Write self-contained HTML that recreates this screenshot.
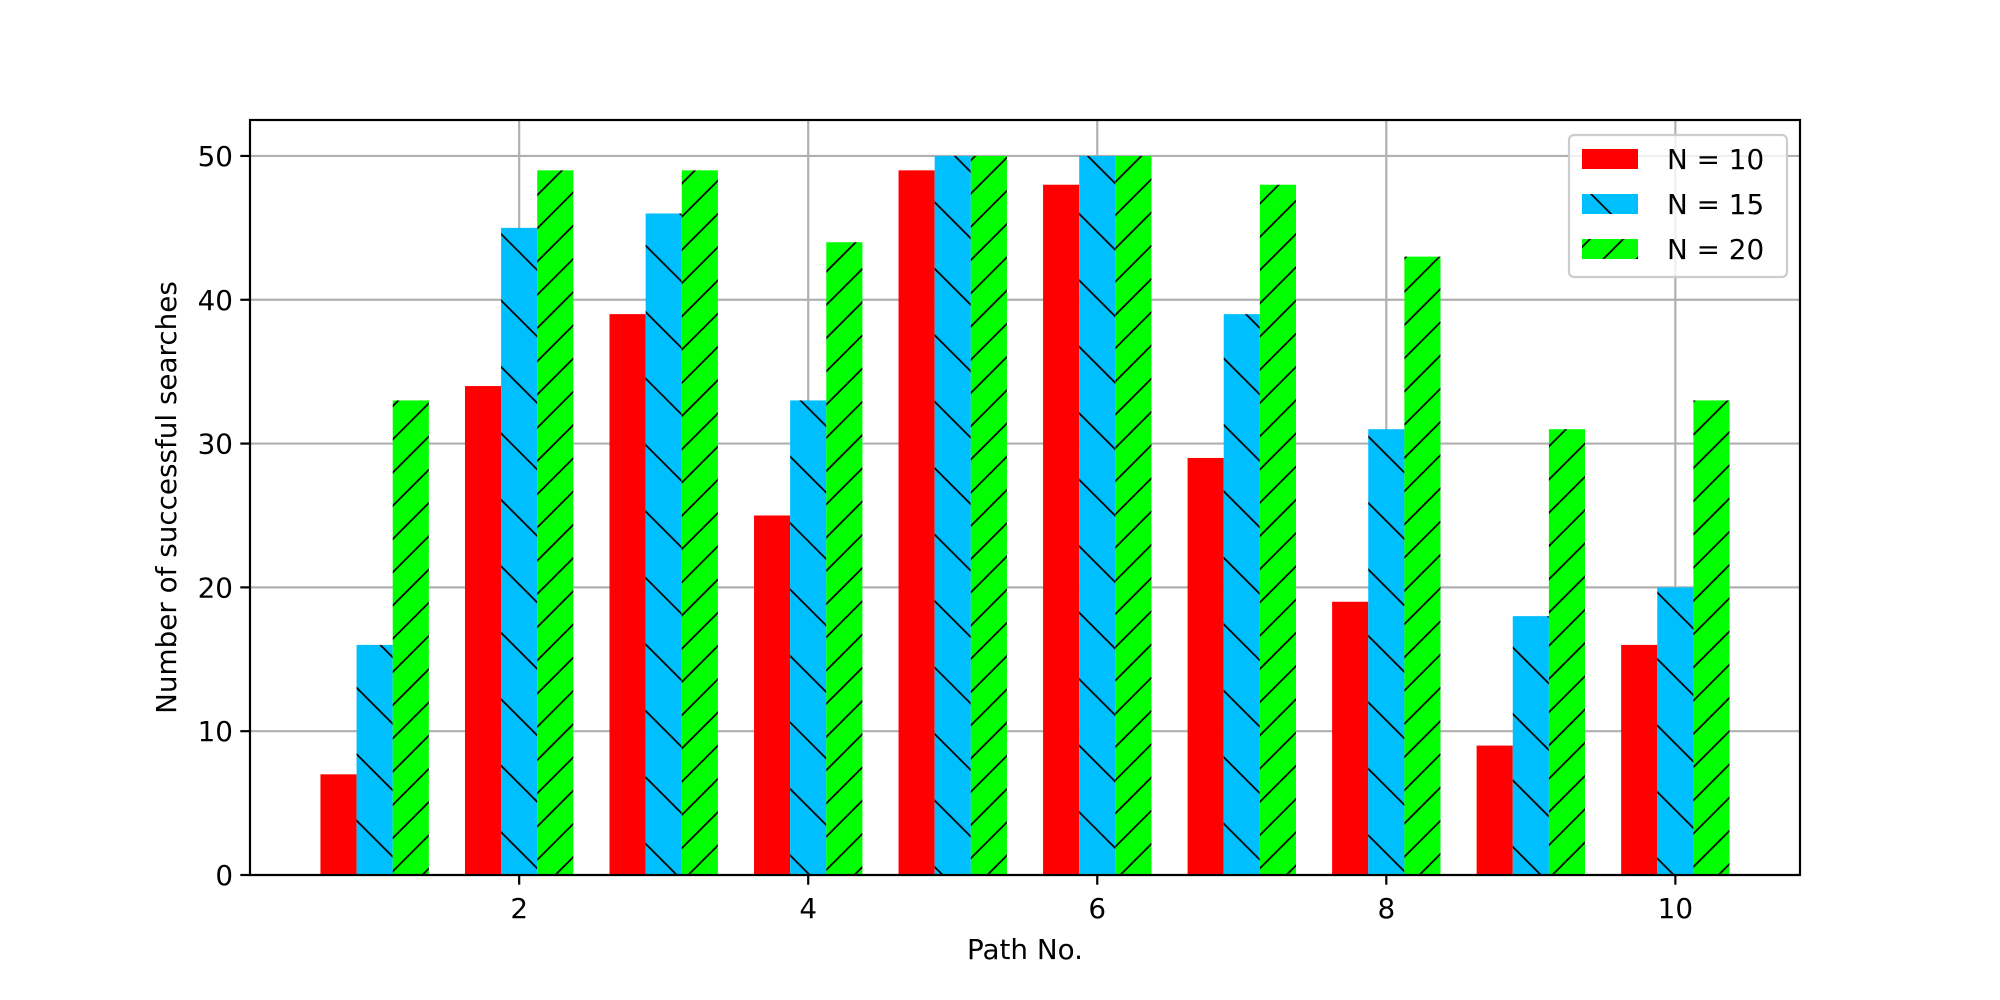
<!DOCTYPE html>
<html><head><meta charset="utf-8"><style>
html,body{margin:0;padding:0;background:#fff;}
svg{display:block;font-family:"DejaVu Sans","Liberation Sans",sans-serif;}
</style></head><body>
<svg id="chart" width="2000" height="1000" viewBox="0 0 2000 1000" xmlns="http://www.w3.org/2000/svg">
<defs>
<pattern id="hatchB" patternUnits="userSpaceOnUse" width="47" height="20" patternTransform="rotate(-45)">
<rect width="47" height="20" fill="#00bfff"/><line x1="0" y1="0" x2="0" y2="20" stroke="#000" stroke-width="3.5"/></pattern>
<pattern id="hatchF" patternUnits="userSpaceOnUse" width="23.5" height="20" patternTransform="rotate(45)">
<rect width="23.5" height="20" fill="#00ff00"/><line x1="0" y1="0" x2="0" y2="20" stroke="#000" stroke-width="3.5"/></pattern>
</defs>
<g id="grid"></g><g id="bars"></g><g id="axes"></g><g id="legend"></g>
</svg>
<script>
const categories=[1,2,3,4,5,6,7,8,9,10];
const n10=[7,34,39,25,49,48,29,19,9,16];
const n15=[16,45,46,33,50,50,39,31,18,20];
const n20=[33,49,49,44,50,50,48,43,31,33];
const xTicks=[2,4,6,8,10];
const yTicks=[0,10,20,30,40,50];
const seriesNames=["N = 10","N = 15","N = 20"];

const NS="http://www.w3.org/2000/svg";
const L=250,R=1800,T=120,B=875,xmin=0.1375,xmax=10.8625,ymax=52.5,bw=0.25;
const X=v=>L+(v-xmin)/(xmax-xmin)*(R-L);
const Y=v=>B-v/ymax*(B-T);
function mk(tag,attrs,parent){const e=document.createElementNS(NS,tag);for(const k in attrs)e.setAttribute(k,attrs[k]);parent.appendChild(e);return e;}
const grid=document.getElementById('grid'),bars=document.getElementById('bars'),axes=document.getElementById('axes'),leg=document.getElementById('legend');
xTicks.forEach(t=>{const l=mk('line',{x1:X(t),x2:X(t),y1:T,y2:B,stroke:'#b0b0b0','stroke-width':2.2},grid);
});
yTicks.forEach(t=>{const l=mk('line',{x1:L,x2:R,y1:Y(t),y2:Y(t),stroke:'#b0b0b0','stroke-width':2.2},grid);
});
const series=[[n10,-bw,'#ff0000','n10'],[n15,0,'url(#hatchB)','n15'],[n20,bw,'url(#hatchF)','n20']];
series.forEach(([vals,off,fill,nm])=>{vals.forEach((v,i)=>{const c=categories[i]+off;
const r=mk('rect',{x:X(c-bw/2),y:Y(v),width:X(c+bw/2)-X(c-bw/2),height:Y(0)-Y(v),fill:fill},bars);
});});
const fr=mk('rect',{x:L,y:T,width:R-L,height:B-T,fill:'none',stroke:'#000','stroke-width':2.2},axes);

xTicks.forEach(t=>{mk('line',{x1:X(t),x2:X(t),y1:B,y2:B+9.7,stroke:'#000','stroke-width':2.2},axes);
const tx=mk('text',{x:X(t),y:B+43,'font-size':27.8,'text-anchor':'middle'},axes);tx.textContent=t;
});
yTicks.forEach(t=>{mk('line',{x1:L,x2:L-9.7,y1:Y(t),y2:Y(t),stroke:'#000','stroke-width':2.2},axes);
const tx=mk('text',{x:L-17,y:Y(t)+10,'font-size':27.8,'text-anchor':'end'},axes);tx.textContent=t;
});
const xl=mk('text',{x:(L+R)/2,y:959,'font-size':27.8,'text-anchor':'middle'},axes);xl.textContent='Path No.';

const yl=mk('text',{x:0,y:0,'font-size':27.8,'text-anchor':'middle',transform:`translate(176,${(T+B)/2}) rotate(-90)`},axes);yl.textContent='Number of successful searches';

const lb=mk('rect',{x:1569,y:135,width:218,height:142,rx:5,fill:'#fff','fill-opacity':0.8,stroke:'#cccccc','stroke-width':2.2},leg);

const fills=['#ff0000','url(#hatchB)','url(#hatchF)'];
seriesNames.forEach((s,i)=>{const y=149+i*45;
const p=mk('rect',{x:1582,y:y,width:56,height:20,fill:fills[i]},leg);

const t=mk('text',{x:1667,y:y+20,'font-size':27.8},leg);t.textContent=s;
});
</script>
</body></html>
